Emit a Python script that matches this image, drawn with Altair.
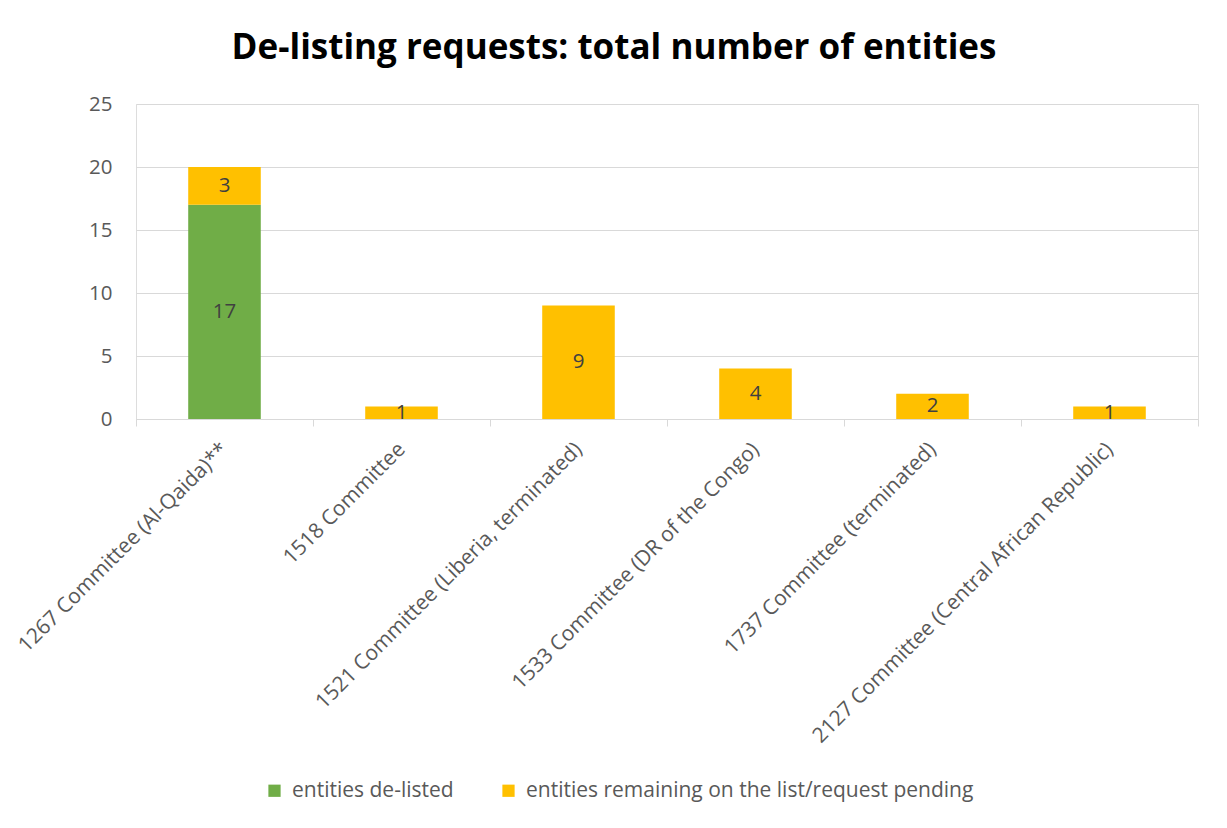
import altair as alt
import pandas as pd

committees = [
    "1267 Committee (Al-Qaida)**",
    "1518 Committee",
    "1521 Committee (Liberia, terminated)",
    "1533 Committee (DR of the Congo)",
    "1737 Committee (terminated)",
    "2127 Committee (Central African Republic)",
]
series = ["entities de-listed", "entities remaining on the list/request pending"]
delisted = [17, 0, 0, 0, 0, 0]
remaining = [3, 1, 9, 4, 2, 1]
colors = ["#70AD47", "#FFC000"]

rows = []
for i, c in enumerate(committees):
    rows.append({"committee": c, "series": series[0], "value": delisted[i], "order": 0})
    rows.append({"committee": c, "series": series[1], "value": remaining[i], "order": 1})
df = pd.DataFrame(rows)

FONT = "Open Sans"
GRAY = "#595959"
FS = 20.5

base = alt.Chart(df).transform_filter("datum.value > 0")

yscale = alt.Scale(domain=[0, 25], nice=False, zero=True)

x_enc = alt.X(
    "committee:N",
    sort=committees,
    title=None,
    scale=alt.Scale(paddingInner=0, paddingOuter=0),
    axis=alt.Axis(
        labelAngle=-45,
        labelAlign="right",
        labelBaseline="middle",
        labelFontSize=21,
        labelColor=GRAY,
        labelFont=FONT,
        labelPadding=20,
        labelLimit=600,
        tickBand="extent",
        tickSize=7,
        tickColor="#D9D9D9",
        domainColor="#D9D9D9",
        domainWidth=1,
        grid=False,
    ),
)

bars = base.mark_bar(width=alt.RelativeBandSize(0.41)).encode(
    x=x_enc,
    y=alt.Y(
        "value:Q",
        stack="zero",
        title=None,
        scale=yscale,
        axis=alt.Axis(
            values=[0, 5, 10, 15, 20, 25],
            grid=True,
            gridColor="#D9D9D9",
            domain=False,
            ticks=False,
            labelFontSize=FS,
            labelColor=GRAY,
            labelFont=FONT,
            labelPadding=24,
        ),
    ),
    color=alt.Color(
        "series:N",
        scale=alt.Scale(domain=series, range=colors),
        legend=alt.Legend(
            title=None,
            orient="none",
            direction="horizontal",
            legendX=128,
            legendY=676,
            symbolType="square",
            symbolSize=150,
            symbolStrokeWidth=0,
            labelFontSize=21,
            labelFont=FONT,
            labelColor=GRAY,
            labelOffset=7,
            columnPadding=44,
            labelLimit=600,
        ),
    ),
    order=alt.Order("order:Q"),
)

labels = (
    base.transform_stack(
        stack="value",
        groupby=["committee"],
        as_=["y0", "y1"],
        sort=[alt.SortField("order", order="ascending")],
    )
    .transform_calculate(mid="(datum.y0 + datum.y1) / 2")
    .mark_text(fontSize=FS, font=FONT, color="#404040", baseline="middle")
    .encode(
        x=alt.X("committee:N", sort=committees),
        y=alt.Y("mid:Q", scale=yscale),
        text=alt.Text("value:Q"),
    )
)

chart = (
    alt.layer(bars, labels)
    .properties(
        width=1062,
        height=315,
        autosize=alt.AutoSizeParams(type="none"),
        padding={"left": 136, "top": 104, "right": 29, "bottom": 409},
        title=alt.TitleParams(
            "De-listing requests: total number of entities",
            font=FONT,
            fontSize=35,
            fontWeight="bold",
            color="#000000",
            anchor="middle",
            frame="group",
            dx=-53,
            offset=28,
        ),
    )
    .configure_view(strokeWidth=0, stroke="transparent")
    .configure(font=FONT)
)

chart.save("out.html", embed_options={"renderer": "svg", "actions": False})
